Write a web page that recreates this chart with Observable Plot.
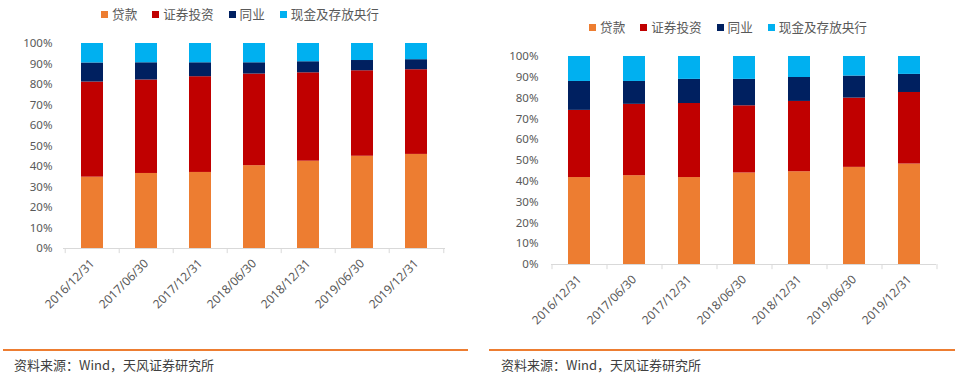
<!DOCTYPE html>
<html>
<head>
<meta charset="utf-8">
<script src="https://cdn.jsdelivr.net/npm/d3@7"></script>
<script src="https://cdn.jsdelivr.net/npm/@observablehq/plot@0.6"></script>
<style>
  body { margin: 0; background: #fff; }
  #root { position: relative; width: 960px; height: 378px; background: #fff; overflow: hidden;
          font-family: "Noto Sans", "Noto Sans CJK SC", sans-serif; }
  .panel { position: absolute; top: 0; width: 480px; height: 378px; }
  .legend { position: absolute; left: 0; width: 480px; display: flex; justify-content: center; gap: 15px;
            font-family: "Noto Sans CJK SC", sans-serif; font-size: 12.6px; color: #595959; line-height: 16px; }
  .legend .item { display: flex; align-items: center; }
  .legend .sw { width: 7px; height: 7px; margin-right: 4px; }
  .plot { position: absolute; left: 0; top: 0; }
  .rule { position: absolute; height: 2px; background: #ED7D31; }
  .caption { position: absolute; font-family: "Noto Sans CJK SC", sans-serif; font-size: 13px; color: #404040; line-height: 16px; }
</style>
</head>
<body>
<div id="root"></div>
<script>
// ---- data ----
const dates = ["2016/12/31", "2017/06/30", "2017/12/31", "2018/06/30", "2018/12/31", "2019/06/30", "2019/12/31"];
const series = ["贷款", "证券投资", "同业", "现金及存放央行"];
const palette = ["#ED7D31", "#C00000", "#002060", "#00B0F0"];
const yTicks = [0, 10, 20, 30, 40, 50, 60, 70, 80, 90, 100];
const caption = "资料来源：Wind，天风证券研究所";

// left chart (%)
const leftLoans      = [34.8, 36.6, 37.1, 40.4, 42.6, 45.0, 45.9];
const leftSecurities = [46.4, 45.6, 46.7, 44.7, 43.1, 41.7, 41.3];
const leftInterbank  = [9.3, 8.4, 6.8, 5.5, 5.4, 5.0, 4.9];
const leftCash       = [9.5, 9.4, 9.4, 9.4, 8.9, 8.3, 7.9];

// right chart (%)
const rightLoans      = [41.8, 42.7, 41.8, 44.0, 44.6, 46.7, 48.3];
const rightSecurities = [32.3, 34.3, 35.6, 32.3, 33.8, 33.3, 34.4];
const rightInterbank  = [13.9, 11.0, 11.6, 12.7, 11.5, 10.6, 8.7];
const rightCash       = [12.0, 12.0, 11.0, 11.0, 10.1, 9.4, 8.6];

// ---- drawing ----
const root = document.getElementById("root");

function makeChart(values, m, tickPad) {
  const data = series.flatMap((s, i) => dates.map((d, j) => ({date: d, series: s, value: values[i][j]})));
  const W = 480, H = 340;
  const step = (W - m.left - m.right) / dates.length;
  const axisColor = "#d9d9d9";
  return Plot.plot({
    width: W, height: H,
    marginTop: m.top, marginBottom: m.bottom, marginLeft: m.left, marginRight: m.right,
    style: {fontFamily: "'Noto Sans', 'Noto Sans CJK SC', sans-serif", fontSize: "11.5px", color: "#595959", background: "transparent"},
    x: {domain: dates, paddingInner: 0.6, paddingOuter: 0.3, label: null},
    y: {domain: [0, 100], label: null},
    color: {domain: series, range: palette},
    marks: [
      Plot.barY(data, {x: "date", y: "value", fill: "series"}),
      Plot.ruleY([0], {stroke: axisColor}),
      Plot.ruleX(dates, {x: d => d, y1: 0, y2: -2.5, dx: -step / 2, stroke: axisColor}),
      Plot.ruleX([dates[dates.length - 1]], {x: d => d, y1: 0, y2: -2.5, dx: step / 2, stroke: axisColor}),
      Plot.axisY({ticks: yTicks, tickFormat: d => d + "%", tickSize: 0, tickPadding: tickPad, label: null}),
      Plot.axisX({tickRotate: -45, tickSize: 0, tickPadding: 13, label: null, fontSize: 12})
    ]
  });
}

function makePanel(left, values, m, tickPad, legendTop, legendShift, ruleLeft, ruleWidth, capLeft) {
  const panel = document.createElement("div");
  panel.className = "panel";
  panel.style.left = left + "px";
  root.appendChild(panel);

  const chart = makeChart(values, m, tickPad);
  const wrap = document.createElement("div");
  wrap.className = "plot";
  wrap.appendChild(chart);
  panel.appendChild(wrap);

  const lg = document.createElement("div");
  lg.className = "legend";
  lg.style.top = legendTop + "px";
  lg.style.left = legendShift + "px";
  series.forEach((s, i) => {
    const it = document.createElement("div");
    it.className = "item";
    const sw = document.createElement("span");
    sw.className = "sw";
    sw.style.background = palette[i];
    const tx = document.createElement("span");
    tx.textContent = s;
    it.appendChild(sw); it.appendChild(tx);
    lg.appendChild(it);
  });
  panel.appendChild(lg);

  const rule = document.createElement("div");
  rule.className = "rule";
  rule.style.left = ruleLeft + "px";
  rule.style.width = ruleWidth + "px";
  rule.style.top = "349px";
  panel.appendChild(rule);

  const cap = document.createElement("div");
  cap.className = "caption";
  cap.style.left = capLeft + "px";
  cap.style.top = "357px";
  cap.textContent = caption;
  panel.appendChild(cap);
}

makePanel(0, [leftLoans, leftSecurities, leftInterbank, leftCash],
  {top: 43, bottom: 92, left: 63, right: 35}, 11, 6, 0, 3, 465, 14);
makePanel(480, [rightLoans, rightSecurities, rightInterbank, rightCash],
  {top: 56, bottom: 76, left: 71, right: 24}, 13, 19, 8, 9, 466, 21);
</script>
</body>
</html>
